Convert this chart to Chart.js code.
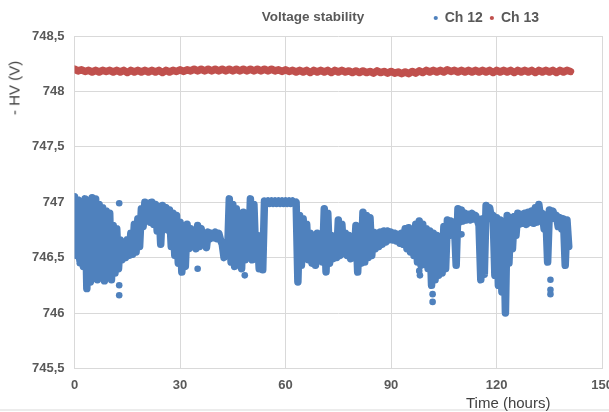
<!DOCTYPE html>
<html>
<head>
<meta charset="utf-8">
<script src="https://cdn.jsdelivr.net/npm/chart.js@4/dist/chart.umd.min.js"></script>
<style>
	body { margin: 0; background: #fff; overflow: hidden; }
	#wrap { position: relative; width: 609px; height: 412px; overflow: hidden; font-family: "Liberation Sans", Arial, sans-serif; }
	#chart-title { position: absolute; left: 0; top: 9px; width: 626px; text-align: center; font-size: 13.5px; font-weight: bold; color: #595959; }
	#y-title { position: absolute; left: 14px; top: 88px; transform: translate(-50%, -50%) rotate(-90deg); font-size: 15px; color: #404040; white-space: nowrap; }
	#x-title { position: absolute; left: 466px; top: 394px; font-size: 15px; color: #404040; white-space: nowrap; }
	#frame { position: absolute; left: 0; top: 409px; width: 609px; height: 2px; background: #ececec; }
	canvas { position: absolute; left: 0; top: 0; }
</style>
</head>
<body>
<div id="wrap">
	<div id="frame"></div>
	<canvas id="canvas-hv-chart" width="622" height="412"></canvas>
	<div id="chart-title">Voltage stability</div>
	<div id="y-title">- HV (V)</div>
	<div id="x-title">Time (hours)</div>
</div>
<script>
// Ch 12: highest and lowest reading in each hour (hour 0 .. 140).
var ch12Top = [
	747.05, 747.02, 747.00, 747.03, 746.98, 747.04, 747.03, 746.98, 746.95, 746.92,
	746.90, 746.79, 746.76, 746.66, 746.62, 746.66, 746.72, 746.80, 746.85, 746.94,
	747.00, 746.99, 747.00, 746.98, 746.96, 746.97, 746.95, 746.93, 746.90, 746.88,
	746.82, 746.78, 746.80, 746.76, 746.74, 746.79, 746.76, 746.72, 746.73, 746.72,
	746.73, 746.72, 746.62, 746.62, 747.03, 746.98, 746.94, 746.90, 746.91, 746.88,
	747.03, 746.98, 746.70, 746.65, 747.01, 747.01, 747.01, 747.01, 747.01, 747.01,
	747.01, 747.01, 747.01, 747.00, 746.88, 746.85, 746.80, 746.72, 746.70, 746.72,
	746.70, 746.94, 746.90, 746.70, 746.68, 746.84, 746.80, 746.72, 746.70, 746.68,
	746.79, 746.76, 746.91, 746.88, 746.86, 746.73, 746.72, 746.73, 746.74, 746.74,
	746.73, 746.72, 746.71, 746.72, 746.76, 746.77, 746.75, 746.80, 746.83, 746.80,
	746.76, 746.74, 746.72, 746.70, 746.68, 746.78, 746.84, 746.83, 746.80, 746.94,
	746.93, 746.90, 746.89, 746.90, 746.88, 746.79, 746.85, 746.97, 746.95, 746.88,
	746.86, 746.84, 746.82, 746.88, 746.86, 746.87, 746.90, 746.89, 746.90, 746.91,
	746.92, 746.95, 746.98, 746.90, 746.88, 746.93, 746.92, 746.88, 746.86, 746.85,
	746.84
];
var ch12Bottom = [
	746.52, 746.48, 746.42, 746.22, 746.28, 746.35, 746.30, 746.33, 746.29, 746.32,
	746.30, 746.36, 746.40, 746.48, 746.50, 746.52, 746.53, 746.55, 746.60, 746.78,
	746.85, 746.82, 746.80, 746.74, 746.62, 746.78, 746.75, 746.60, 746.52, 746.45,
	746.37, 746.42, 746.58, 746.60, 746.58, 746.60, 746.62, 746.59, 746.67, 746.68,
	746.67, 746.66, 746.50, 746.52, 746.46, 746.42, 746.45, 746.40, 746.48, 746.50,
	746.48, 746.52, 746.40, 746.39, 746.99, 746.99, 746.99, 746.99, 746.99, 746.99,
	746.99, 746.99, 746.99, 746.28, 746.43, 746.50, 746.48, 746.45, 746.43, 746.48,
	746.46, 746.37, 746.45, 746.49, 746.50, 746.52, 746.55, 746.52, 746.49, 746.50,
	746.37, 746.45, 746.46, 746.50, 746.52, 746.58, 746.60, 746.62, 746.64, 746.66,
	746.66, 746.65, 746.63, 746.62, 746.58, 746.55, 746.52, 746.46, 746.43, 746.45,
	746.40, 746.25, 746.30, 746.34, 746.36, 746.40, 746.70, 746.72, 746.43, 746.82,
	746.83, 746.84, 746.84, 746.85, 746.84, 746.30, 746.35, 746.85, 746.86, 746.34,
	746.25, 746.19, 746.00, 746.45, 746.58, 746.70, 746.80, 746.81, 746.80, 746.82,
	746.81, 746.82, 746.85, 746.76, 746.46, 746.85, 746.86, 746.78, 746.76, 746.43,
	746.60
];

// Ch 12: isolated readings away from the main band.
var ch12DotHours = [1.5, 12.7, 12.7, 12.7, 35, 48.4, 98, 98.2, 101.8, 101.8, 110, 135.3, 135.3, 135.3];
var ch12DotValues = [746.45, 746.99, 746.25, 746.16, 746.40, 746.34, 746.38, 746.34, 746.17, 746.10, 746.71, 746.30, 746.21, 746.17];

// Ch 13: one reading per hour (hour 0 .. 141), alternating upper / lower edge of the band.
var ch13Values = [
	748.20, 748.185, 748.195, 748.18, 748.19, 748.175, 748.19, 748.175, 748.19, 748.18,
	748.19, 748.175, 748.19, 748.175, 748.19, 748.17, 748.19, 748.175, 748.19, 748.175,
	748.19, 748.175, 748.19, 748.175, 748.19, 748.17, 748.19, 748.175, 748.19, 748.18,
	748.195, 748.18, 748.195, 748.185, 748.20, 748.185, 748.20, 748.185, 748.20, 748.185,
	748.20, 748.185, 748.20, 748.185, 748.20, 748.185, 748.20, 748.185, 748.20, 748.185,
	748.20, 748.185, 748.20, 748.185, 748.20, 748.185, 748.20, 748.185, 748.195, 748.18,
	748.195, 748.18, 748.19, 748.175, 748.19, 748.175, 748.19, 748.17, 748.19, 748.175,
	748.19, 748.175, 748.19, 748.17, 748.19, 748.175, 748.19, 748.175, 748.185, 748.17,
	748.185, 748.17, 748.185, 748.17, 748.18, 748.165, 748.185, 748.17, 748.18, 748.165,
	748.18, 748.165, 748.175, 748.16, 748.175, 748.16, 748.18, 748.165, 748.185, 748.17,
	748.19, 748.175, 748.19, 748.175, 748.19, 748.175, 748.195, 748.18, 748.19, 748.175,
	748.19, 748.175, 748.19, 748.175, 748.19, 748.175, 748.19, 748.175, 748.19, 748.17,
	748.19, 748.175, 748.19, 748.175, 748.19, 748.17, 748.19, 748.175, 748.19, 748.175,
	748.19, 748.17, 748.19, 748.175, 748.19, 748.175, 748.19, 748.17, 748.19, 748.175,
	748.19, 748.18
];

// Axis ticks.
var xTicks = [0, 30, 60, 90, 120, 150];
var yTicks = [745.5, 746, 746.5, 747, 747.5, 748, 748.5];

var blue = '#4f81bd';
var red = '#c0504d';
var tickFont = { family: '"Liberation Sans", Arial, sans-serif', size: 13, weight: 'bold' };
var legendFont = { family: '"Liberation Sans", Arial, sans-serif', size: 14, weight: 'bold' };

// Build the point lists: top of the hour, then bottom half an hour later.
var ch12Points = [];
ch12Top.forEach(function (top, hour) {
	ch12Points.push({ x: hour, y: top });
	ch12Points.push({ x: hour + 0.5, y: ch12Bottom[hour] });
});

var ch12Dots = ch12DotHours.map(function (hour, i) {
	return { x: hour, y: ch12DotValues[i] };
});

var ch13Points = ch13Values.map(function (value, hour) {
	return { x: hour, y: value };
});

// Moves the legend left, onto the title's row.
var legendShift = {
	id: 'legendShift',
	afterLayout: function (chart) {
		chart.legend.left -= 76;
		chart.legend.right -= 76;
		chart.legend.top -= 1;
		chart.legend.bottom -= 1;
	}
};

var ctx = document.getElementById('canvas-hv-chart').getContext('2d');
var chart = new Chart(ctx, {
	type: 'scatter',
	data: {
		datasets: [
			{
				label: 'Ch 12',
				data: ch12Points,
				showLine: true,
				borderColor: blue,
				backgroundColor: blue,
				borderWidth: 7.5,
				borderJoinStyle: 'round',
				borderCapStyle: 'round',
				pointRadius: 0,
				pointStyle: 'circle'
			},
			{
				label: 'Ch 13',
				data: ch13Points,
				showLine: true,
				borderColor: red,
				backgroundColor: red,
				borderWidth: 7.5,
				borderJoinStyle: 'round',
				borderCapStyle: 'round',
				pointRadius: 0,
				pointStyle: 'circle'
			},
			{
				label: 'Ch 12 dots',
				data: ch12Dots,
				borderColor: blue,
				backgroundColor: blue,
				borderWidth: 0,
				pointRadius: 3.3
			}
		]
	},
	options: {
		responsive: false,
		animation: false,
		layout: { padding: { left: 22, right: 0, top: 5, bottom: 10 } },
		plugins: {
			title: { display: false },
			tooltip: { enabled: false },
			legend: {
				display: true,
				position: 'top',
				align: 'end',
				labels: {
					usePointStyle: true,
					boxWidth: 4,
					boxHeight: 3,
					padding: 7,
					color: '#595959',
					font: legendFont,
					generateLabels: function (chart) {
						var items = Chart.defaults.plugins.legend.labels.generateLabels(chart);
						return items.filter(function (item) {
							item.lineWidth = 0;
							return item.datasetIndex < 2;
						});
					}
				}
			}
		},
		scales: {
			x: {
				type: 'linear',
				min: 0,
				max: 150,
				afterBuildTicks: function (axis) {
					axis.ticks = xTicks.map(function (v) { return { value: v }; });
				},
				grid: { color: '#d9d9d9', drawTicks: false },
				border: { color: '#d9d9d9' },
				ticks: { color: '#595959', font: tickFont, padding: 9, maxRotation: 0 }
			},
			y: {
				type: 'linear',
				min: 745.5,
				max: 748.5,
				afterBuildTicks: function (axis) {
					axis.ticks = yTicks.map(function (v) { return { value: v }; });
				},
				grid: { color: '#d9d9d9', drawTicks: false },
				border: { color: '#d9d9d9' },
				ticks: {
					color: '#595959',
					font: tickFont,
					padding: 10,
					callback: function (value) {
						return String(Math.round(value * 10) / 10).replace('.', ',');
					}
				}
			}
		}
	},
	plugins: [legendShift]
});
</script>
</body>
</html>
